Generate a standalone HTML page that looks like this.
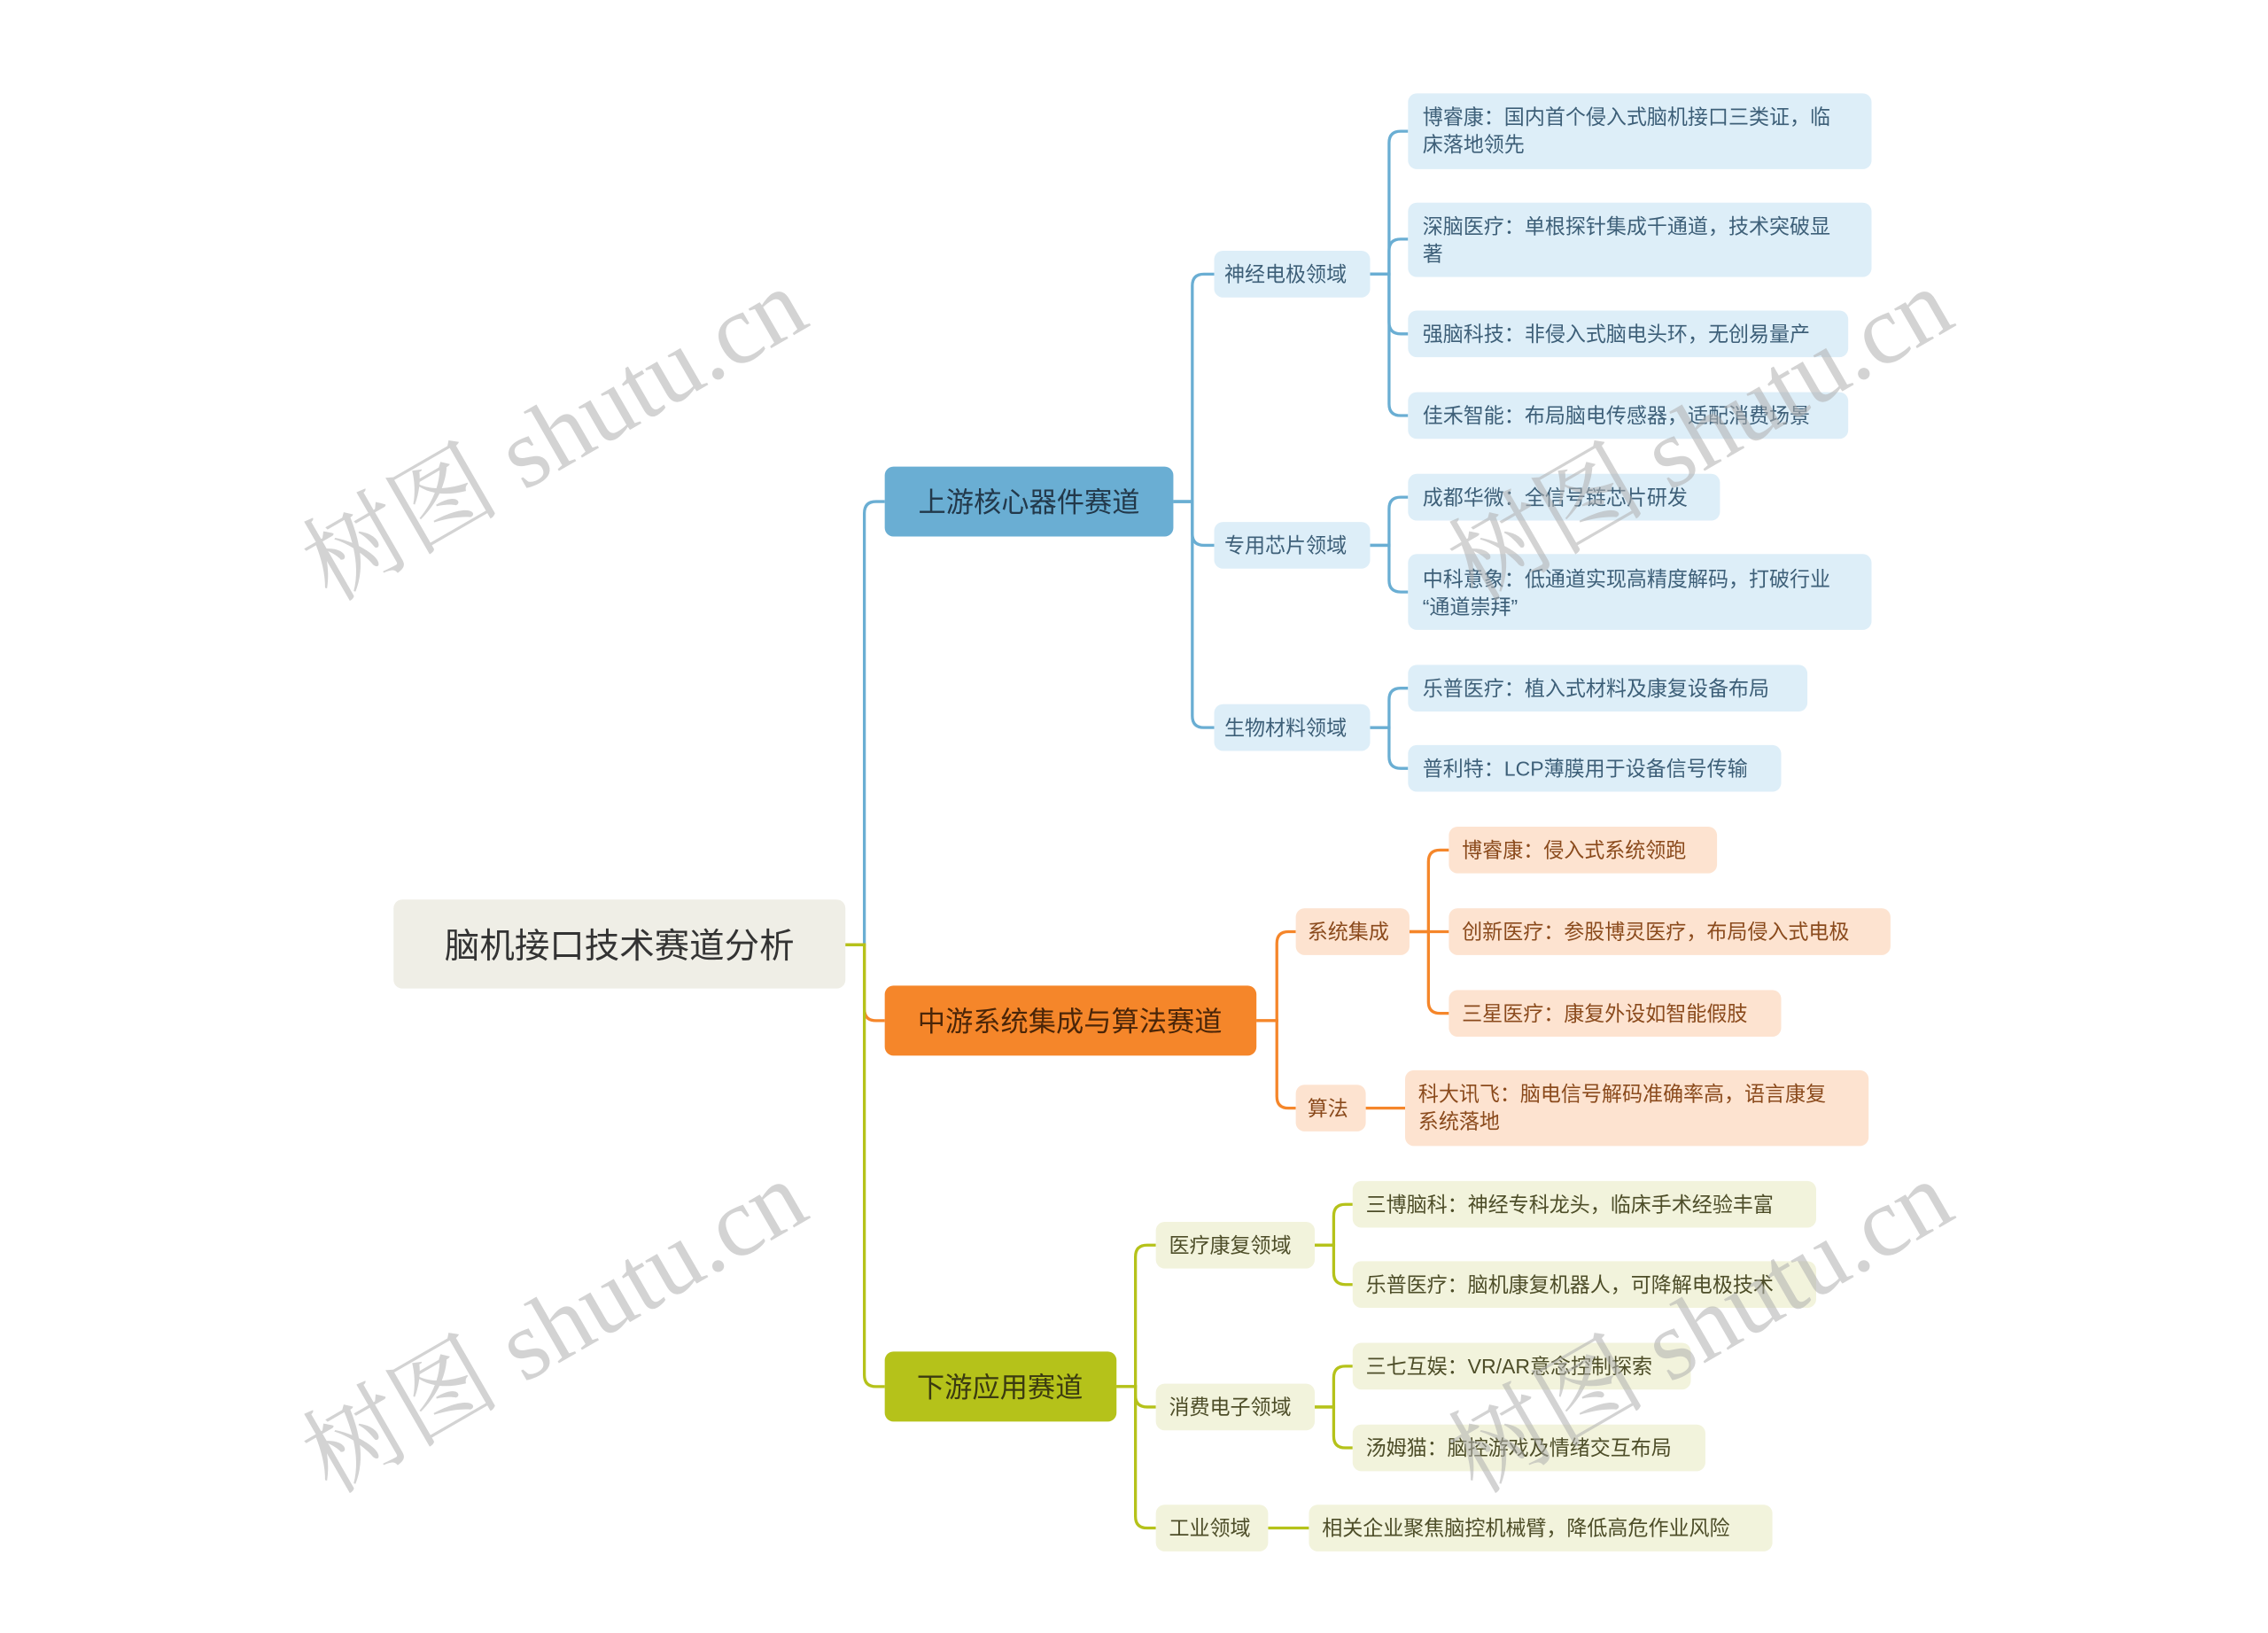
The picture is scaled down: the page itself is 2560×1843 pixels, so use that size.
<!DOCTYPE html>
<html><head><meta charset="utf-8"><style>
html,body{margin:0;padding:0;background:#fff;}
svg{display:block;}
text{font-family:"Liberation Sans","Noto Sans CJK SC",sans-serif;}
.b{fill:#3d5f78;font-size:14px}
.o{fill:#8a4a1c;font-size:14px}
.g{fill:#4d4d28;font-size:14px}
.wm{fill:#b0b0b0;opacity:.55;font-family:"Liberation Serif","Noto Serif CJK SC",serif;font-size:68px}
</style></head><body>
<svg width="2560" height="1843" viewBox="0 0 1556 1120" preserveAspectRatio="none" xmlns="http://www.w3.org/2000/svg">
<g fill="none" stroke-width="2">
<path stroke="#6aaed3" d="M580 648 H593 V352 Q593 344 601 344 H607"/>
<path stroke="#f5862a" d="M580 648 H593 V692 Q593 700 601 700 H607"/>
<path stroke="#b5c21a" d="M580 648 H593 V943 Q593 951 601 951 H607"/>
<g stroke="#6aaed3">
<path d="M805 344 H818 V196 Q818 188 826 188 H833"/>
<path d="M805 344 H818 V366 Q818 374 826 374 H833"/>
<path d="M805 344 H818 V491 Q818 499 826 499 H833"/>
<path d="M940 188 H953 V98 Q953 90 961 90 H966"/>
<path d="M940 188 H953 V172 Q953 164 961 164 H966"/>
<path d="M940 188 H953 V221 Q953 229 961 229 H966"/>
<path d="M940 188 H953 V277 Q953 285 961 285 H966"/>
<path d="M940 374 H953 V349 Q953 341 961 341 H966"/>
<path d="M940 374 H953 V398 Q953 406 961 406 H966"/>
<path d="M940 499 H953 V480 Q953 472 961 472 H966"/>
<path d="M940 499 H953 V519 Q953 527 961 527 H966"/>
</g>
<g stroke="#f5862a">
<path d="M862 700 H876 V647 Q876 639 884 639 H889"/>
<path d="M862 700 H876 V752 Q876 760 884 760 H889"/>
<path d="M967 639 H980 V591 Q980 583 988 583 H994"/>
<path d="M967 639 H994"/>
<path d="M967 639 H980 V687 Q980 695 988 695 H994"/>
<path d="M937 760 H964"/>
</g>
<g stroke="#b5c21a">
<path d="M766 951 H779 V862 Q779 854 787 854 H793"/>
<path d="M766 951 H779 V957 Q779 965 787 965 H793"/>
<path d="M766 951 H779 V1040 Q779 1048 787 1048 H793"/>
<path d="M902 854 H915 V834 Q915 826 923 826 H928"/>
<path d="M902 854 H915 V873 Q915 881 923 881 H928"/>
<path d="M902 965 H915 V945 Q915 937 923 937 H928"/>
<path d="M902 965 H915 V985 Q915 993 923 993 H928"/>
<path d="M870 1048 H898"/>
</g>
</g>
<rect x="270" y="617" width="310" height="61" rx="6" fill="#efeee6"/>
<text x="425" y="657" text-anchor="middle" style="font-size:24px;fill:#333">脑机接口技术赛道分析</text>
<rect x="607" y="320" width="198" height="48" rx="6" fill="#6aaed3"/>
<text x="706" y="351" text-anchor="middle" style="font-size:19px;fill:#22384a">上游核心器件赛道</text>
<rect x="607" y="676" width="255" height="48" rx="6" fill="#f5862a"/>
<text x="734" y="707" text-anchor="middle" style="font-size:19px;fill:#4a2508">中游系统集成与算法赛道</text>
<rect x="607" y="927" width="159" height="48" rx="6" fill="#b5c21a"/>
<text x="686" y="958" text-anchor="middle" style="font-size:19px;fill:#3a3a10">下游应用赛道</text>
<g fill="#ddeef8">
<rect x="833" y="172" width="107" height="32" rx="6"/>
<rect x="833" y="358" width="107" height="32" rx="6"/>
<rect x="833" y="483" width="107" height="32" rx="6"/>
<rect x="966" y="64" width="318" height="52" rx="6"/>
<rect x="966" y="139" width="318" height="51" rx="6"/>
<rect x="966" y="213" width="302" height="32" rx="6"/>
<rect x="966" y="269" width="302" height="32" rx="6"/>
<rect x="966" y="325" width="214" height="32" rx="6"/>
<rect x="966" y="380" width="318" height="52" rx="6"/>
<rect x="966" y="456" width="274" height="32" rx="6"/>
<rect x="966" y="511" width="256" height="32" rx="6"/>
</g>
<text class="b" x="840" y="193">神经电极领域</text>
<text class="b" x="840" y="379">专用芯片领域</text>
<text class="b" x="840" y="504">生物材料领域</text>
<text class="b" x="976" y="85">博睿康：国内首个侵入式脑机接口三类证，临</text>
<text class="b" x="976" y="104">床落地领先</text>
<text class="b" x="976" y="160">深脑医疗：单根探针集成千通道，技术突破显</text>
<text class="b" x="976" y="179">著</text>
<text class="b" x="976" y="234">强脑科技：非侵入式脑电头环，无创易量产</text>
<text class="b" x="976" y="290">佳禾智能：布局脑电传感器，适配消费场景</text>
<text class="b" x="976" y="346">成都华微：全信号链芯片研发</text>
<text class="b" x="976" y="402">中科意象：低通道实现高精度解码，打破行业</text>
<text class="b" x="976" y="421">“通道崇拜”</text>
<text class="b" x="976" y="477">乐普医疗：植入式材料及康复设备布局</text>
<text class="b" x="976" y="532">普利特：LCP薄膜用于设备信号传输</text>
<g fill="#fde3d0">
<rect x="889" y="623" width="78" height="32" rx="6"/>
<rect x="889" y="744" width="48" height="32" rx="6"/>
<rect x="994" y="567" width="184" height="32" rx="6"/>
<rect x="994" y="623" width="303" height="32" rx="6"/>
<rect x="994" y="679" width="228" height="32" rx="6"/>
<rect x="964" y="734" width="318" height="52" rx="6"/>
</g>
<text class="o" x="897" y="644">系统集成</text>
<text class="o" x="897" y="765">算法</text>
<text class="o" x="1003" y="588">博睿康：侵入式系统领跑</text>
<text class="o" x="1003" y="644">创新医疗：参股博灵医疗，布局侵入式电极</text>
<text class="o" x="1003" y="700">三星医疗：康复外设如智能假肢</text>
<text class="o" x="973" y="755">科大讯飞：脑电信号解码准确率高，语言康复</text>
<text class="o" x="973" y="774">系统落地</text>
<g fill="#f2f3dc">
<rect x="793" y="838" width="109" height="32" rx="6"/>
<rect x="793" y="949" width="109" height="32" rx="6"/>
<rect x="793" y="1032" width="77" height="32" rx="6"/>
<rect x="928" y="810" width="318" height="32" rx="6"/>
<rect x="928" y="865" width="318" height="32" rx="6"/>
<rect x="928" y="921" width="232" height="32" rx="6"/>
<rect x="928" y="977" width="242" height="32" rx="6"/>
<rect x="898" y="1032" width="318" height="32" rx="6"/>
</g>
<text class="g" x="802" y="859">医疗康复领域</text>
<text class="g" x="802" y="970">消费电子领域</text>
<text class="g" x="802" y="1053">工业领域</text>
<text class="g" x="937" y="831">三博脑科：神经专科龙头，临床手术经验丰富</text>
<text class="g" x="937" y="886">乐普医疗：脑机康复机器人，可降解电极技术</text>
<text class="g" x="937" y="942">三七互娱：VR/AR意念控制探索</text>
<text class="g" x="937" y="998">汤姆猫：脑控游戏及情绪交互布局</text>
<text class="g" x="907" y="1053">相关企业聚焦脑控机械臂，降低高危作业风险</text>
<text class="wm" transform="translate(392,318) rotate(-30)" text-anchor="middle">树图 shutu.cn</text>
<text class="wm" transform="translate(1178,318) rotate(-30)" text-anchor="middle">树图 shutu.cn</text>
<text class="wm" transform="translate(392,930) rotate(-30)" text-anchor="middle">树图 shutu.cn</text>
<text class="wm" transform="translate(1178,930) rotate(-30)" text-anchor="middle">树图 shutu.cn</text>
</svg>
</body></html>
